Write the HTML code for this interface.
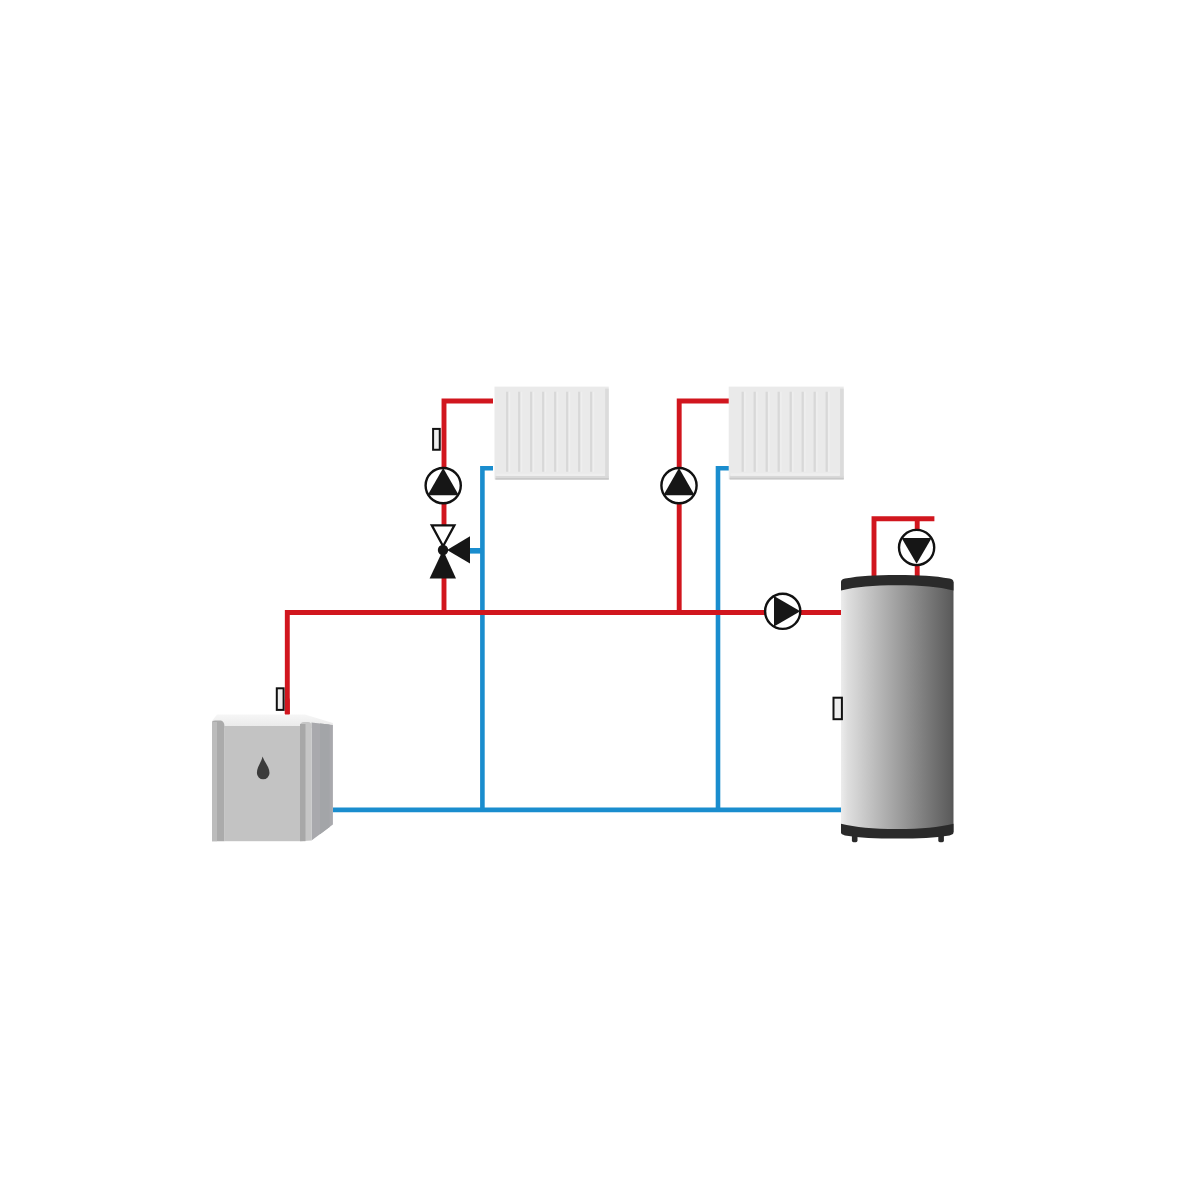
<!DOCTYPE html>
<html><head><meta charset="utf-8"><style>
html,body{margin:0;padding:0;background:#fff;width:1200px;height:1200px;overflow:hidden}
svg{display:block}
</style></head><body>
<svg width="1200" height="1200" viewBox="0 0 1200 1200">
<defs>
<linearGradient id="tank" x1="0" x2="1" y1="0" y2="0">
<stop offset="0" stop-color="#ececec"/>
<stop offset="0.06" stop-color="#dedede"/>
<stop offset="0.97" stop-color="#5d5d5d"/>
<stop offset="1" stop-color="#555"/>
</linearGradient>
<linearGradient id="btop" x1="0" x2="0" y1="0" y2="1">
<stop offset="0" stop-color="#f6f6f6"/>
<stop offset="1" stop-color="#e9e9e9"/>
</linearGradient>
</defs>

<!-- pipes blue -->
<g fill="none" stroke="#1a8dce" stroke-width="4.6" stroke-linejoin="miter" stroke-linecap="butt">
<path d="M333,809.9 H841"/>
<path d="M493,468.3 H482.4 V810"/>
<path d="M729,468.2 H718 V810"/>
<path d="M469,550.8 H482" stroke-width="5.6"/>
</g>
<!-- pipes red -->
<g fill="none" stroke="#d1161e" stroke-width="4.9" stroke-linejoin="miter" stroke-linecap="butt">
<path d="M287.3,714 V612.5 H843"/>
<path d="M287.3,700 V714" stroke-linecap="round"/>
<path d="M444,612.5 V576"/>
<path d="M444,527 V401 H493"/>
<path d="M679.2,612.5 V401 H729"/>
<path d="M874,578 V518.8 H934.4"/>
<path d="M917.2,518.8 V578"/>
</g>

<!-- radiators -->
<g id="rad1">
<rect x="494.5" y="386.6" width="114.25" height="93" fill="#eaeaea"/>
<rect x="605.15" y="388.6" width="3.6" height="90" fill="#dbdbdb"/>
<rect x="495.5" y="476.0" width="113.25" height="3.6" fill="#d9d9d9"/>
<rect x="495.5" y="478.0" width="113.25" height="1.6" fill="#c8c8c8"/>
<rect x="496.5" y="473.6" width="108.25" height="2.4" fill="#eeeeee"/>
<path d="M507.2,391.8V471.8M519.2,391.8V471.8M531.2,391.8V471.8M543.2,391.8V471.8M555.2,391.8V471.8M567.2,391.8V471.8M579.2,391.8V471.8M591.2,391.8V471.8" stroke="#d8d8d8" stroke-width="2.2" fill="none"/>
<path d="M509.4,391.8V471.8M521.4,391.8V471.8M533.4,391.8V471.8M545.4,391.8V471.8M557.4,391.8V471.8M569.4,391.8V471.8M581.4,391.8V471.8M593.4,391.8V471.8" stroke="#efefef" stroke-width="1.4" fill="none"/>
</g>
<g id="rad2">
<rect x="728.7" y="386.6" width="115" height="92.8" fill="#eaeaea"/>
<rect x="840.1" y="388.6" width="3.6" height="89.8" fill="#dbdbdb"/>
<rect x="729.7" y="475.8" width="114" height="3.6" fill="#d9d9d9"/>
<rect x="729.7" y="477.8" width="114" height="1.6" fill="#c8c8c8"/>
<rect x="730.7" y="473.40000000000003" width="109" height="2.4" fill="#eeeeee"/>
<path d="M742.7,391.8V471.8M754.7,391.8V471.8M766.7,391.8V471.8M778.7,391.8V471.8M790.7,391.8V471.8M802.7,391.8V471.8M814.7,391.8V471.8M826.7,391.8V471.8" stroke="#d8d8d8" stroke-width="2.2" fill="none"/>
<path d="M744.9,391.8V471.8M756.9,391.8V471.8M768.9,391.8V471.8M780.9,391.8V471.8M792.9,391.8V471.8M804.9,391.8V471.8M816.9,391.8V471.8M828.9,391.8V471.8" stroke="#efefef" stroke-width="1.4" fill="none"/>
</g>

<!-- pumps -->
<g stroke="#111" stroke-width="2.4" fill="#fff">
<circle cx="443.2" cy="485.6" r="17.6"/>
<circle cx="679" cy="485.6" r="17.6"/>
<circle cx="782.7" cy="611.3" r="17.6"/>
<circle cx="916.6" cy="547.5" r="17.6"/>
</g>
<g fill="#161616">
<path d="M443.2,468 L458.8,495.2 L427.6,495.2Z"/>
<path d="M679,468 L694.6,495.2 L663.4,495.2Z"/>
<path d="M800.3,611.3 L774,596.1 L774,626.5Z"/>
<path d="M916.6,563.8 L901.6,538 L931.6,538Z"/>
</g>

<!-- valve -->
<path d="M431.8,525.3 H454.4 L443.1,546.2 Z" fill="#fff" stroke="#111" stroke-width="2.3" stroke-linejoin="miter"/>
<path d="M443,550 L456,578.5 L429.6,578.5Z" fill="#161616"/>
<path d="M447,550 L470,536.3 L470,563.4Z" fill="#161616"/>
<circle cx="443" cy="550" r="5.2" fill="#161616"/>

<!-- tank -->
<rect x="841" y="582" width="112.5" height="250" fill="url(#tank)"/>
<path d="M841,582 Q841,579.5 845,578.6 C860,575.6 875,574.9 897.25,574.9 C919.5,574.9 934.5,575.6 949.5,578.6 Q953.5,579.5 953.5,582 V590.5 C938,586.8 922,585.3 897.25,585.3 C872.5,585.3 856.5,586.8 841,590.5 Z" fill="#2a2a2a"/>
<path d="M841,823.8 C856,827.4 872,829.1 897.25,829.1 C922.5,829.1 938.5,827.4 953.5,823.8 V832.6 Q953.5,834.6 949.5,835.4 C934.5,837.6 919.5,838.5 897.25,838.5 C875,838.5 860,837.6 845,835.4 Q841,834.6 841,832.6 Z" fill="#2a2a2a"/>
<rect x="851.9" y="834" width="5.6" height="8.2" rx="1.6" fill="#2a2a2a"/>
<rect x="938.3" y="834" width="5.6" height="8.2" rx="1.6" fill="#2a2a2a"/>

<!-- boiler -->
<path d="M212,721 L217,714.5 L305,714.5 L332.9,723 L332.9,728 L224,728 L212,728Z" fill="url(#btop)"/>
<path d="M311.5,722.5 L332.9,725 L332.9,824.5 L311.5,840.5Z" fill="#a9a9ad"/>
<path d="M320,723.5 L329.6,724.6 L329.6,827 L320,834.2Z" fill="#a3a5a8"/>
<rect x="224.4" y="726" width="75.6" height="115.2" fill="#c3c3c3"/>
<path d="M212,841.2 V723 Q212,720.6 215,720.6 L221,720.6 Q224.4,722 224.4,726 V841.2Z" fill="#ababab"/>
<rect x="212" y="722" width="5" height="119.2" fill="#bcbcbc"/>
<path d="M300,841.2 V726 Q300,722 304,722 L308,722 Q311.5,722 311.5,726 V840.5Z" fill="#c6c6c6"/>
<rect x="300" y="724" width="5.5" height="117.2" fill="#a8a8a8"/>
<path d="M262.6,756.5 C261.2,762.5 256.9,766.8 256.9,773 A6.3,6.3 0 0 0 269.5,773 C269.5,766.8 264.6,762.5 262.6,756.5Z" fill="#3b3b3b"/>
<!-- sensors -->
<g fill="#eeeeee" stroke="#111" stroke-width="2">
<rect x="433.1" y="428.9" width="6.65" height="20.85"/>
<rect x="276.8" y="688.3" width="6.8" height="21.6"/>
<rect x="833.5" y="697.7" width="8.4" height="21.5"/>
</g>

</svg>
</body></html>
